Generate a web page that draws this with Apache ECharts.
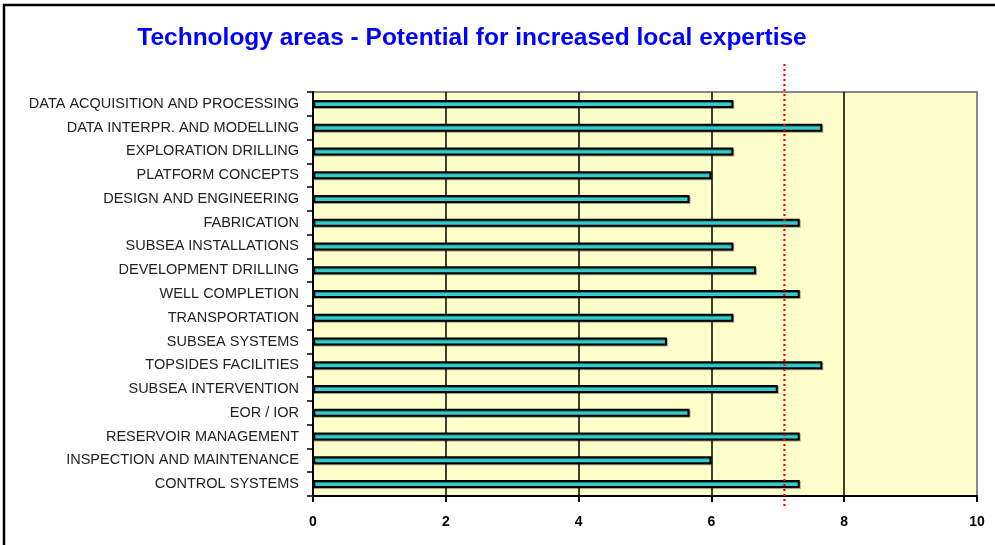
<!DOCTYPE html>
<html>
<head>
<meta charset="utf-8">
<script src="https://cdn.jsdelivr.net/npm/echarts@6/dist/echarts.min.js"></script>
<style>
  html, body { margin: 0; padding: 0; background: #fff; }
  #chart { width: 995px; height: 545px; }
</style>
</head>
<body>
<div id="chart"></div>
<script>
// categories, top to bottom
const areas = [
  'DATA ACQUISITION AND PROCESSING',
  'DATA INTERPR. AND MODELLING',
  'EXPLORATION DRILLING',
  'PLATFORM CONCEPTS',
  'DESIGN AND ENGINEERING',
  'FABRICATION',
  'SUBSEA INSTALLATIONS',
  'DEVELOPMENT DRILLING',
  'WELL COMPLETION',
  'TRANSPORTATION',
  'SUBSEA SYSTEMS',
  'TOPSIDES FACILITIES',
  'SUBSEA INTERVENTION',
  'EOR / IOR',
  'RESERVOIR MANAGEMENT',
  'INSPECTION AND MAINTENANCE',
  'CONTROL SYSTEMS'
]
const potential = [6.33, 7.67, 6.33, 6.0, 5.67, 7.33, 6.33, 6.67, 7.33, 6.33, 5.33, 7.67, 7.0, 5.67, 7.33, 6.0, 7.33]
const refValue = 7.1 // red dotted reference line
const xTicks = [0, 2, 4, 6, 8, 10]

const myChart = echarts.init(document.getElementById('chart'))
const option = {
  animation: false,
  backgroundColor: '#ffffff',
  title: {
    text: 'Technology areas - Potential for increased local expertise',
    left: 467,
    textAlign: 'center',
    top: 21,
    textStyle: {
      color: '#0000ff',
      fontSize: 24.5,
      fontWeight: 'bold',
      fontFamily: 'Liberation Sans, Arial'
    }
  },
  grid: {
    left: 313,
    right: 18,
    top: 92,
    bottom: 49,
    show: true,
    backgroundColor: '#ffffcc',
    borderColor: '#888888',
    borderWidth: 2
  },
  xAxis: {
    type: 'value',
    min: xTicks[0],
    max: xTicks[xTicks.length - 1],
    interval: 2,
    axisLine: { show: true, lineStyle: { color: '#000', width: 2 } },
    axisTick: { show: true, length: 6, lineStyle: { color: '#000', width: 2 } },
    axisLabel: {
      color: '#000',
      fontWeight: 'bold',
      fontSize: 14,
      fontFamily: 'Liberation Sans, Arial',
      margin: 19
    },
    splitLine: {
      show: true,
      lineStyle: { color: ['#000', '#000', '#000', '#000', '#000', '#888'], width: 1.5 }
    }
  },
  yAxis: {
    type: 'category',
    data: areas,
    inverse: true,
    axisLine: { show: true, lineStyle: { color: '#000', width: 2 } },
    axisTick: { show: true, length: 6, lineStyle: { color: '#000', width: 1.5 } },
    axisLabel: {
      color: '#222',
      fontSize: 14.5,
      fontFamily: 'Liberation Sans, Arial',
      margin: 14,
      interval: 0
    },
    splitLine: { show: false }
  },
  series: [
    {
      type: 'bar',
      data: potential,
      barWidth: 8,
      itemStyle: {
        color: '#33cccc',
        borderColor: '#000',
        borderWidth: 2,
        shadowColor: 'rgba(0,0,0,0.35)',
        shadowOffsetX: 1,
        shadowOffsetY: 1
      },
      z: 3
    }
  ]
}
myChart.setOption(option)

// reference line drawn through the axis scale, overlapping the plot edges like the original
const px = myChart.convertToPixel({ gridIndex: 0 }, [refValue, 0])[0]
myChart.setOption({
  graphic: [
    {
      type: 'rect',
      shape: { x: 4, y: 5, width: 1100, height: 700 },
      style: { fill: 'none', stroke: '#000', lineWidth: 2.5 },
      z: 100
    },
    {
      type: 'line',
      shape: { x1: px, y1: 64, x2: px, y2: 508 },
      style: { stroke: '#ff0000', lineWidth: 2.2, lineDash: [2, 3] },
      z: 50
    }
  ]
})
</script>
</body>
</html>
